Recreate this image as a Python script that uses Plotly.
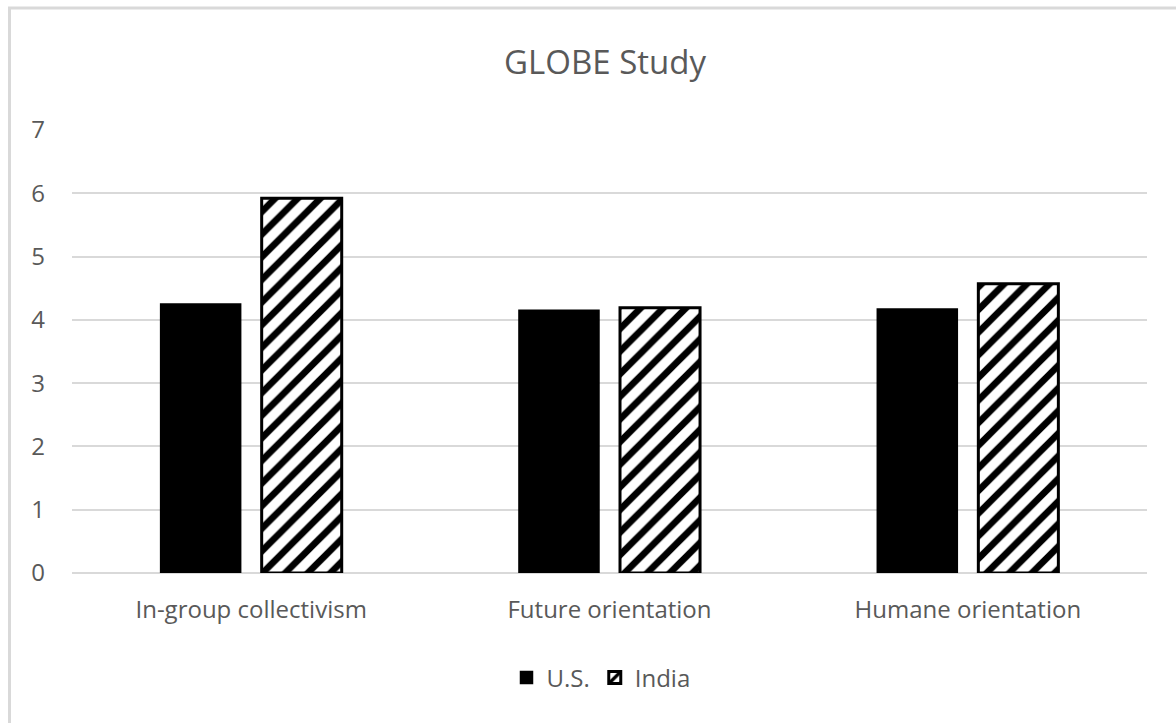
import plotly.graph_objects as go

categories = ["In-group collectivism", "Future orientation", "Humane orientation"]
us_values = [4.25, 4.15, 4.17]
india_values = [5.92, 4.19, 4.57]
series_names = ["U.S.", "India"]
y_ticks = [0, 1, 2, 3, 4, 5, 6, 7]

W, H = 1176, 723
L, R, T, B = 72, 29, 130, 150
pw, ph = W - L - R, H - T - B

def px_x(p):
    return (p - L) / pw

def px_y(p):
    return (H - B - p) / ph

FONT = "Open Sans"
GREY = "#595959"

fig = go.Figure()
fig.add_trace(go.Bar(
    name=series_names[0], x=categories, y=us_values,
    marker=dict(color="black", line=dict(color="black", width=1.5)),
))
fig.add_trace(go.Bar(
    name=series_names[1], x=categories, y=india_values,
    marker=dict(color="white", line=dict(color="black", width=3),
                pattern=dict(shape="/", fgcolor="black", bgcolor="white",
                             fgopacity=1, size=16, solidity=0.42,
                             fillmode="replace")),
))

fig.update_layout(
    width=W, height=H,
    margin=dict(l=L, r=R, t=T, b=B, autoexpand=False),
    paper_bgcolor="white", plot_bgcolor="white",
    barmode="group", bargap=0.436, bargroupgap=0.208,
    font=dict(family=FONT, color=GREY, size=24),
    title=dict(text="GLOBE Study", x=px_x(605), xref="paper", xanchor="center",
               y=1 - 62 / H, yref="container", yanchor="middle",
               font=dict(family=FONT, size=33, color=GREY)),
    showlegend=True,
    legend=dict(orientation="h", x=px_x(601), xanchor="center",
                y=px_y(678), yanchor="middle",
                font=dict(family=FONT, size=24, color=GREY),
                itemwidth=30, tracegroupgap=0),
    xaxis=dict(showgrid=False, showline=False, zeroline=False,
               tickfont=dict(family=FONT, size=24, color=GREY),
               ticks="", ticklabelstandoff=20),
    yaxis=dict(range=[0, 7], tickvals=y_ticks, showgrid=True,
               gridcolor="#d9d9d9", gridwidth=2, zeroline=True,
               zerolinecolor="#d9d9d9", zerolinewidth=2, showline=False,
               tickfont=dict(family=FONT, size=24, color=GREY),
               ticks="", ticklabelstandoff=26),
    shapes=[dict(type="rect", xref="paper", yref="paper",
                 x0=px_x(9.5), x1=px_x(1200), y0=px_y(740), y1=px_y(8),
                 line=dict(color="#d9d9d9", width=3), fillcolor="rgba(0,0,0,0)",
                 layer="below")],
)

fig.write_html("out.html")
